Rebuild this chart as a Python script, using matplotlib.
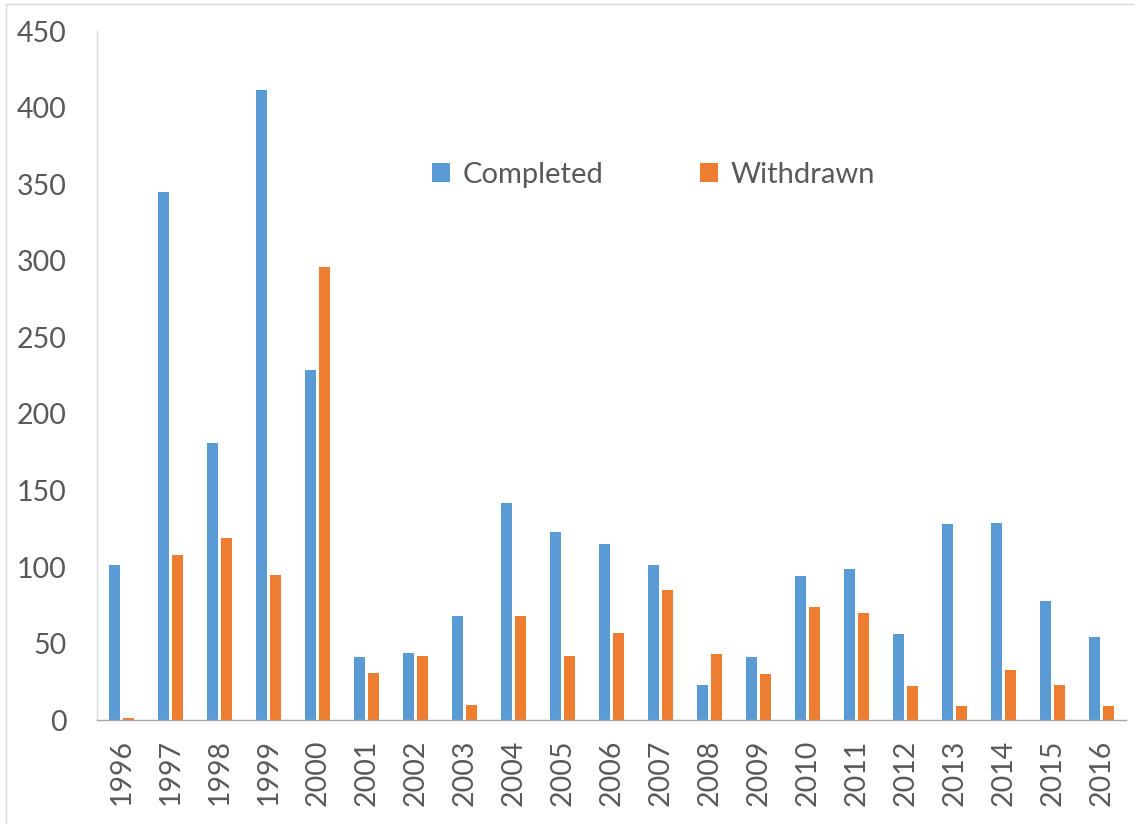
import matplotlib
matplotlib.use("Agg")
import matplotlib.pyplot as plt
import numpy as np
from matplotlib.lines import Line2D

years = [str(y) for y in range(1996, 2017)]
completed = [101, 345, 181, 412, 229, 41, 44, 68, 142, 123, 115, 101, 23, 41, 94, 99, 56, 128, 129, 78, 54]
withdrawn = [1, 108, 119, 95, 296, 31, 42, 10, 68, 42, 57, 85, 43, 30, 74, 70, 22, 9, 33, 23, 9]
yticks = [0, 50, 100, 150, 200, 250, 300, 350, 400, 450]

BLUE = "#5B9BD5"
ORANGE = "#ED7D31"
TEXT = "#595959"

plt.rcParams["font.family"] = ["Lato", "DejaVu Sans"]

fig = plt.figure(figsize=(11.35, 8.24), dpi=100)
ax = fig.add_axes([0.0859, 0.1262, 0.9059, 0.8356])

x = np.arange(len(years))
w = 0.225
off = 0.143
ax.bar(x - off, completed, width=w, color=BLUE, label="Completed")
ax.bar(x + off, withdrawn, width=w, color=ORANGE, label="Withdrawn")

ax.set_xlim(-0.5, len(years) - 0.5)
ax.set_ylim(0, 450)
ax.set_yticks(yticks)
ax.set_yticklabels([str(v) for v in yticks])
ax.set_xticks(x)
ax.set_xticklabels(years, rotation=90)

ax.tick_params(axis="y", length=0, pad=22, labelsize=20.5, labelcolor=TEXT)
ax.tick_params(axis="x", length=0, pad=14, labelsize=20.5, labelcolor=TEXT)

for s in ("top", "right"):
    ax.spines[s].set_visible(False)
ax.spines["left"].set_color("#D9D9D9")
ax.spines["left"].set_linewidth(1.0)
ax.spines["bottom"].set_color("#A6A6A6")
ax.spines["bottom"].set_linewidth(1.0)

leg = ax.legend(loc="center", bbox_to_anchor=(0.541, 0.792), ncol=2, frameon=False,
                fontsize=21, handlelength=0.6, handleheight=0.6, handletextpad=0.45,
                columnspacing=3.3, labelcolor=TEXT)

# thin frame lines along the top and left edges of the figure
fig.add_artist(Line2D([6 / 1135, 1], [1 - 4 / 824, 1 - 4 / 824], transform=fig.transFigure,
                      color="#D9D9D9", linewidth=1.0))
fig.add_artist(Line2D([6 / 1135, 6 / 1135], [0, 1 - 4 / 824], transform=fig.transFigure,
                      color="#D9D9D9", linewidth=1.0))

fig.savefig("out.png", dpi=100, facecolor="white")
